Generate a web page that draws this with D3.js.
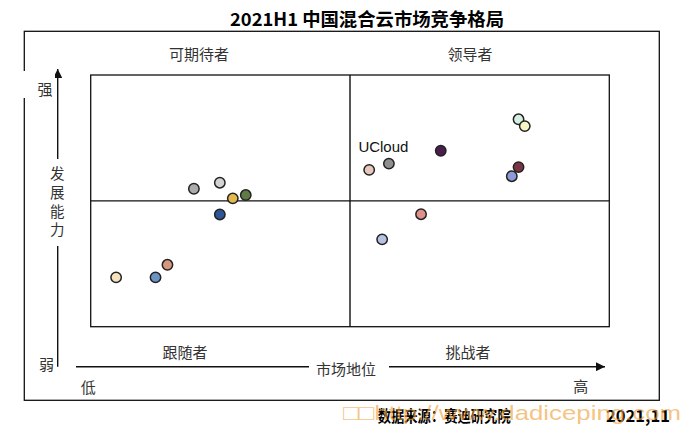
<!DOCTYPE html>
<meta charset="utf-8">
<style>
  body { margin: 0; background: #fff; }
  svg { display: block; }
  .cjk { font-family: "Noto Sans CJK SC", sans-serif; }
  .quad { font-size: 15px; fill: #333; }
  .vert { font-size: 14.5px; fill: #333; }
  .frame { fill: none; stroke: #111; stroke-width: 1.3px; }
  .axisline { stroke: #111; stroke-width: 1.4px; }
  .dot { stroke: #222; stroke-width: 1.5px; }
</style>
<body>
<script src="https://cdn.jsdelivr.net/npm/d3@7"></script>
<script>

  // market position (x) and development ability (y), 0-100
  var names = ["", "", "", "", "", "", "", "", "", "", "", "UCloud", "", "", "", "", ""];
  var marketPos = [19.9, 24.9, 27.4, 29.9, 24.9, 14.8, 12.5, 4.9, 82.5, 83.7, 67.5, 57.5, 53.7, 82.5, 81.2, 63.7, 56.2];
  var devAbility = [54.8, 57.2, 51.0, 52.3, 44.6, 24.6, 19.6, 19.6, 82.4, 79.7, 69.9, 64.8, 62.3, 63.4, 59.8, 44.7, 34.7];

  var quadrants = ["可期待者", "领导者", "跟随者", "挑战者"];
  var title = "2021H1 中国混合云市场竞争格局";

  // fill colours for the dots, in the same order
  var palette = ["#ababab", "#d3d3d3", "#e2b94f", "#5f7a45", "#2e5597", "#d6977f", "#6b93c4", "#f6e3bd",
                 "#d5efe3", "#f7f5c6", "#4b1d4e", "#8f8f8f", "#e6c9bd", "#7b3443", "#8d9ad6", "#e0908a", "#b6c2e0"];

  var data = marketPos.map(function(v, i) {
    return {name: names[i], x: v, y: devAbility[i]};
  });

  var width = 690, height = 436;

  var x = d3.scaleLinear().domain([0, 100]).range([90.7, 609.3]);
  var y = d3.scaleLinear().domain([0, 100]).range([326.7, 75]);
  var color = d3.scaleOrdinal().domain(d3.range(data.length)).range(palette);

  var svg = d3.select("body").append("svg")
    .attr("width", width)
    .attr("height", height);

  var defs = svg.append("defs");
  defs.append("marker")
    .attr("id", "arrow")
    .attr("viewBox", "0 0 10 10")
    .attr("refX", 10).attr("refY", 5)
    .attr("markerWidth", 6.5).attr("markerHeight", 6.5)
    .attr("markerUnits", "strokeWidth")
    .attr("orient", "auto")
    .append("path")
    .attr("d", "M0,0L10,5L0,10Z")
    .attr("fill", "#111");

  // title
  svg.append("text")
    .attr("class", "cjk")
    .attr("x", 367).attr("y", 26)
    .attr("text-anchor", "middle")
    .attr("font-size", 18)
    .attr("font-weight", "bold")
    .attr("textLength", 274)
    .attr("lengthAdjust", "spacingAndGlyphs")
    .text(title);

  // outer frame
  svg.append("rect")
    .attr("class", "frame")
    .attr("x", 24.3).attr("y", 31.3)
    .attr("width", 635).attr("height", 369);

  // axes with arrows
  svg.append("line").attr("class", "axisline")
    .attr("x1", 57.7).attr("y1", 366.7).attr("x2", 57.7).attr("y2", 69)
    .attr("marker-end", "url(#arrow)");
  svg.append("line").attr("class", "axisline")
    .attr("x1", 76).attr("y1", 366.7).attr("x2", 605).attr("y2", 366.7)
    .attr("marker-end", "url(#arrow)");

  // white boxes behind axis texts
  svg.append("rect").attr("x", 20).attr("y", 71).attr("width", 35).attr("height", 27).attr("fill", "#fff");
  svg.append("rect").attr("x", 48).attr("y", 159).attr("width", 20).attr("height", 87).attr("fill", "#fff");
  svg.append("rect").attr("x", 309).attr("y", 358).attr("width", 80).attr("height", 20).attr("fill", "#fff");

  var small = [["强", 45, 88], ["弱", 46.5, 363], ["低", 88.3, 386.5], ["高", 580.7, 385]];
  small.forEach(function(s) {
    svg.append("text").attr("class", "cjk quad")
      .attr("x", s[1]).attr("y", s[2])
      .attr("text-anchor", "middle").attr("dominant-baseline", "central")
      .text(s[0]);
  });

  svg.append("text").attr("class", "cjk quad")
    .attr("x", 346).attr("y", 368.3)
    .attr("text-anchor", "middle").attr("dominant-baseline", "central")
    .text("市场地位");

  // vertical axis name, one text with a tspan per character
  var vtext = svg.append("text").attr("class", "cjk vert")
    .attr("text-anchor", "middle").attr("dominant-baseline", "central");
  "发展能力".split("").forEach(function(c, i) {
    vtext.append("tspan")
      .attr("x", 57.3).attr("y", 172 + i * 18.8)
      .text(c);
  });

  // quadrant names
  var quadPos = [[199, 53], [470, 53], [185, 351.5], [468, 351.5]];
  quadrants.forEach(function(q, i) {
    svg.append("text").attr("class", "cjk quad")
      .attr("x", quadPos[i][0]).attr("y", quadPos[i][1])
      .attr("text-anchor", "middle").attr("dominant-baseline", "central")
      .text(q);
  });

  // plot box and quadrant dividers
  svg.append("rect").attr("class", "frame")
    .attr("x", x(0)).attr("y", y(100))
    .attr("width", x(100) - x(0)).attr("height", y(0) - y(100));
  svg.append("line").attr("class", "axisline")
    .attr("x1", x(50)).attr("x2", x(50)).attr("y1", y(0)).attr("y2", y(100));
  svg.append("line").attr("class", "axisline")
    .attr("x1", x(0)).attr("x2", x(100)).attr("y1", y(50)).attr("y2", y(50));

  // dots
  svg.selectAll(".dot")
    .data(data)
    .enter().append("circle")
    .attr("class", "dot")
    .attr("cx", function(d) { return x(d.x); })
    .attr("cy", function(d) { return y(d.y); })
    .attr("r", 5.2)
    .attr("fill", function(d, i) { return color(i); });

  svg.selectAll(".lbl")
    .data(data.filter(function(d) { return d.name; }))
    .enter().append("text")
    .attr("class", "lbl")
    .attr("x", function(d) { return x(d.x) - 5.5; })
    .attr("y", function(d) { return y(d.y) - 11.5; })
    .attr("text-anchor", "middle")
    .attr("font-family", "Liberation Sans, Arial, sans-serif")
    .attr("font-size", 15)
    .attr("fill", "#111")
    .text(function(d) { return d.name; });

  // source line
  svg.append("text").attr("class", "cjk")
    .attr("x", 377.7).attr("y", 422)
    .attr("font-size", 16).attr("font-weight", "bold")
    .attr("textLength", 133).attr("lengthAdjust", "spacingAndGlyphs")
    .text("数据来源：赛迪研究院");
  svg.append("text").attr("class", "cjk")
    .attr("x", 606).attr("y", 422)
    .attr("font-size", 16).attr("font-weight", "bold")
    .attr("textLength", 64).attr("lengthAdjust", "spacingAndGlyphs")
    .text("2021,11");

  // watermark (overlaps the source line, as in the original)
  svg.append("text")
    .attr("x", 343).attr("y", 420)
    .attr("font-family", "Liberation Sans, Arial, sans-serif")
    .attr("font-size", 21)
    .attr("fill", "#f0a23c")
    .attr("fill-opacity", 0.65)
    .attr("textLength", 338).attr("lengthAdjust", "spacingAndGlyphs")
    .text("□□http://www.dadiceping.com");

</script>
</body>
